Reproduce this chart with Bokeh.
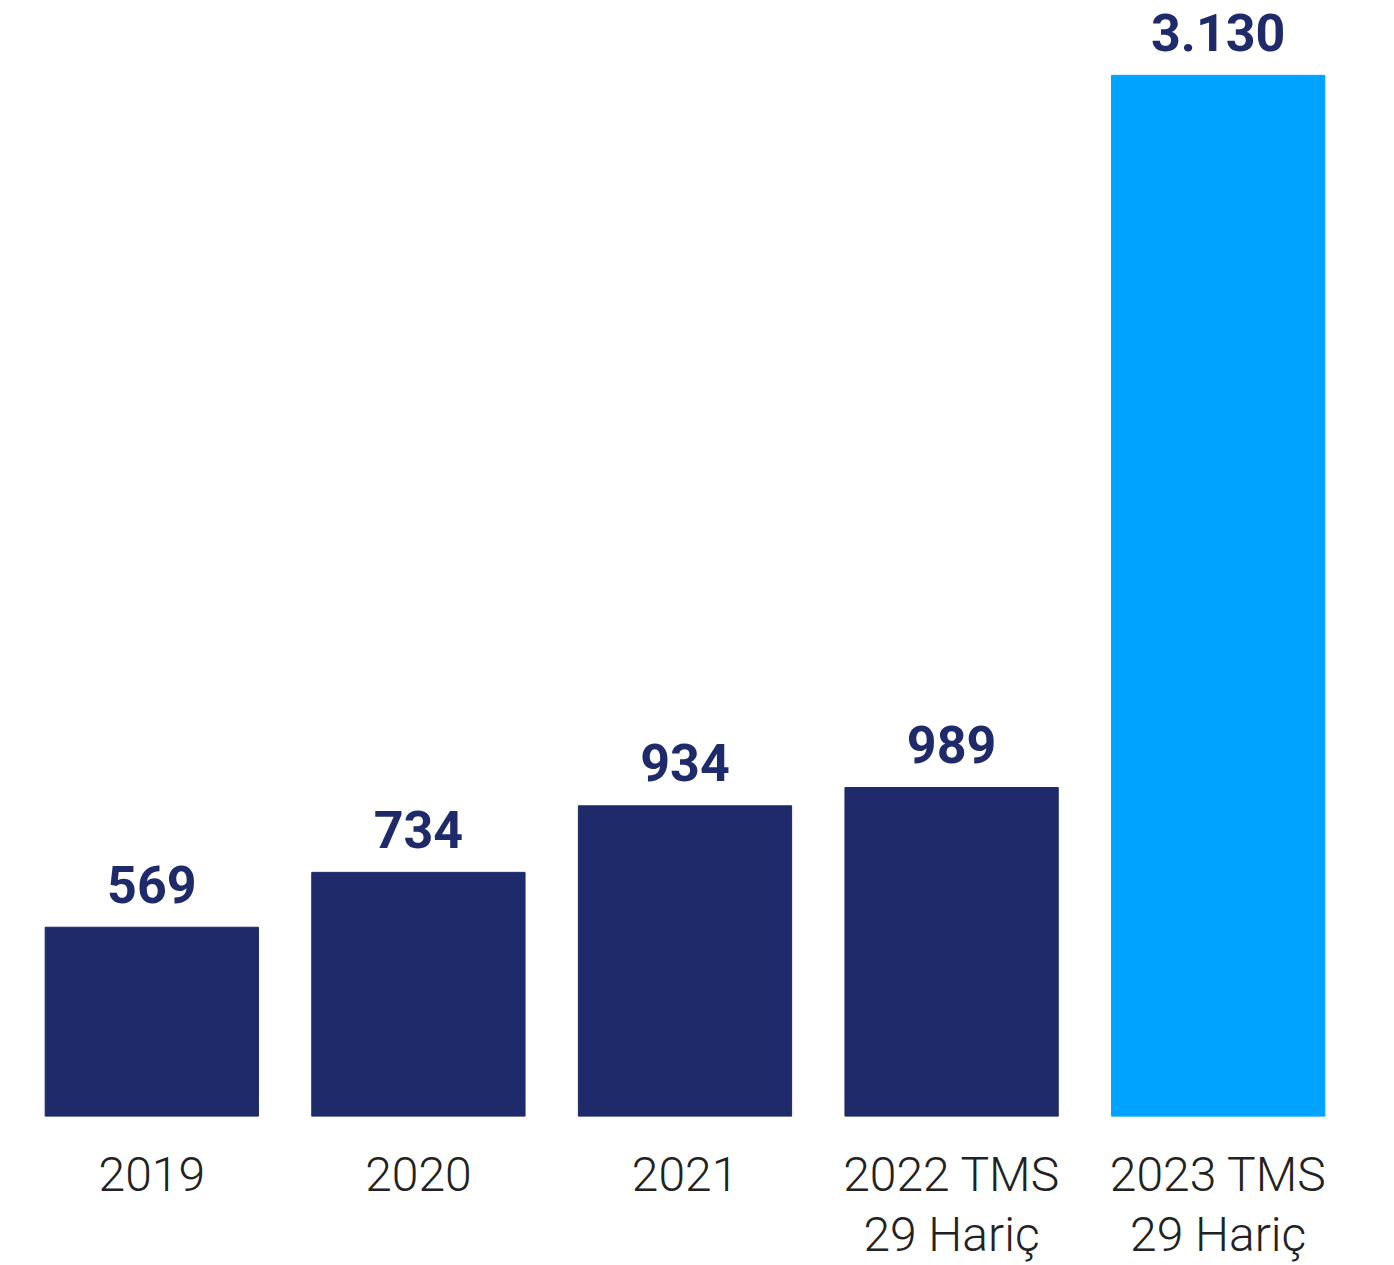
from bokeh.plotting import figure
from bokeh.models import ColumnDataSource, Range1d
from bokeh.core.properties import value
from bokeh.embed import file_html
from bokeh.resources import INLINE

categories = ["2019", "2020", "2021", "2022 TMS\n29 Hariç", "2023 TMS\n29 Hariç"]
values = [569, 734, 934, 989, 3130]
labels = ["569", "734", "934", "989", "3.130"]
colors = ["#1e2a69", "#1e2a69", "#1e2a69", "#1e2a69", "#00a3ff"]

src = ColumnDataSource(dict(x=categories, top=values, label=labels, color=colors))

p = figure(x_range=categories, y_range=Range1d(0, 3355), width=1378, height=1265,
           output_backend="svg", toolbar_location=None,
           min_border_left=18, min_border_right=27, min_border_top=0, min_border_bottom=149)
p.outline_line_color = None
p.grid.grid_line_color = None
p.yaxis.visible = False
p.x_range.range_padding = 0

p.vbar(x="x", top="top", width=0.8, color="color", source=src)
p.text(x="x", y="top", text="label", source=src, text_align="center",
       text_baseline="alphabetic", y_offset=-43, text_font=value("Roboto"),
       text_font_style="bold", text_font_size="52px", text_color="#1e2a69")

ax = p.xaxis[0]
ax.axis_line_color = None
ax.major_tick_line_color = None
ax.minor_tick_line_color = None
ax.major_label_standoff = 23
ax.major_label_text_font = "Roboto Light"
ax.major_label_text_font_size = "48px"
ax.major_label_text_color = "#222222"
ax.major_label_text_line_height = 1.06

open("out.html", "w").write(file_html(p, INLINE))
